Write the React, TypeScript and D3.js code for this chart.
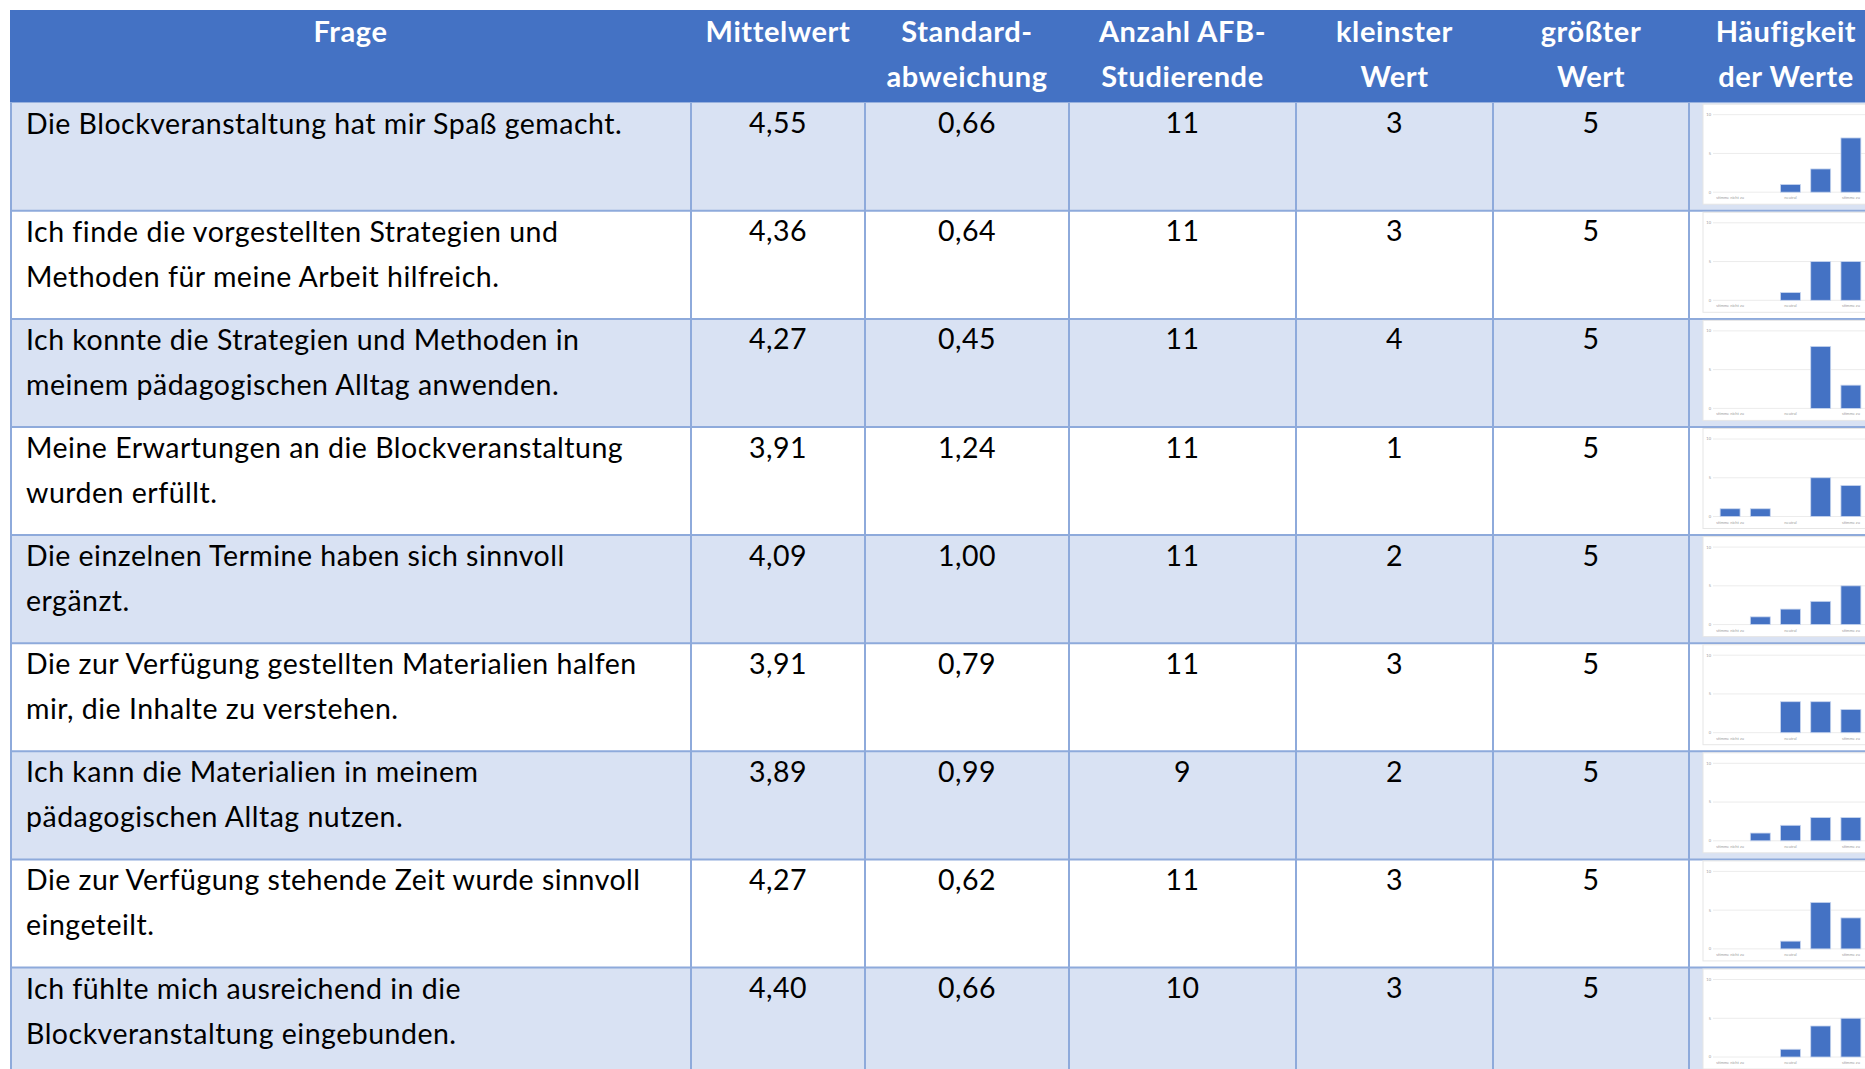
import React, { useEffect, useRef } from 'react';
import * as d3 from 'd3';

const width = 1865;
const height = 1069;

const headers = ['Frage', 'Mittelwert', 'Standard-\nabweichung', 'Anzahl AFB-\nStudierende', 'kleinster\nWert', 'größter\nWert', 'Häufigkeit\nder Werte'];

const questions = [
  'Die Blockveranstaltung hat mir Spaß gemacht.',
  'Ich finde die vorgestellten Strategien und\nMethoden für meine Arbeit hilfreich.',
  'Ich konnte die Strategien und Methoden in\nmeinem pädagogischen Alltag anwenden.',
  'Meine Erwartungen an die Blockveranstaltung\nwurden erfüllt.',
  'Die einzelnen Termine haben sich sinnvoll\nergänzt.',
  'Die zur Verfügung gestellten Materialien halfen\nmir, die Inhalte zu verstehen.',
  'Ich kann die Materialien in meinem\npädagogischen Alltag nutzen.',
  'Die zur Verfügung stehende Zeit wurde sinnvoll\neingeteilt.',
  'Ich fühlte mich ausreichend in die\nBlockveranstaltung eingebunden.',
];
const means = [4.55, 4.36, 4.27, 3.91, 4.09, 3.91, 3.89, 4.27, 4.40];
const stdDevs = [0.66, 0.64, 0.45, 1.24, 1.00, 0.79, 0.99, 0.62, 0.66];
const counts = [11, 11, 11, 11, 11, 11, 9, 11, 10];
const minValues = [3, 3, 4, 1, 2, 3, 2, 3, 3];
const maxValues = [5, 5, 5, 5, 5, 5, 5, 5, 5];

// frequency of answers 1..5 per question
const answerValues = [1, 2, 3, 4, 5];
const answerLabels = ['stimme nicht zu', '', 'neutral', '', 'stimme zu'];
const frequencies = [
  [0, 0, 1, 3, 7],
  [0, 0, 1, 5, 5],
  [0, 0, 0, 8, 3],
  [1, 1, 0, 5, 4],
  [0, 1, 2, 3, 5],
  [0, 0, 4, 4, 3],
  [0, 1, 2, 3, 3],
  [0, 0, 1, 6, 4],
  [0, 0, 1, 4, 5],
];
const freqTicks = [0, 5, 10];

const colEdges = [10, 691, 865, 1069, 1296, 1493, 1689, 1883];
const tableTop = 10;
const headerBottom = 102.7;
const rowHeight = 108.1;
const lineGap = 45;

const font = 'Lato, "Noto Sans", sans-serif';
const de = d3.formatLocale({ decimal: ',', thousands: '.', grouping: [3], currency: ['', '€'] });
const fmt2 = de.format('.2f');

const App = () => {
  const ref = useRef<SVGSVGElement>(null);

  useEffect(() => {
    const svg = d3.select(ref.current);
    svg.selectAll('*').remove();

    const rowY = (i: number) => headerBottom + i * rowHeight;

    // header
    svg.append('rect')
      .attr('x', colEdges[0]).attr('y', tableTop)
      .attr('width', colEdges[7] - colEdges[0]).attr('height', headerBottom - tableTop)
      .attr('fill', '#4472C4');

    headers.forEach((h, c) => {
      const cx = (colEdges[c] + colEdges[c + 1]) / 2;
      h.split('\n').forEach((line, k) => {
        svg.append('text')
          .attr('x', cx).attr('y', tableTop + 31.7 + k * lineGap)
          .attr('text-anchor', 'middle')
          .attr('fill', '#fff')
          .style('font-family', font).style('font-weight', 700).style('font-size', '29px')
          .style('letter-spacing', '0.6px')
          .text(line);
      });
    });

    // row backgrounds
    questions.forEach((q, i) => {
      svg.append('rect')
        .attr('x', colEdges[0]).attr('y', rowY(i))
        .attr('width', colEdges[7] - colEdges[0]).attr('height', rowHeight)
        .attr('fill', i % 2 === 0 ? '#D9E2F3' : '#FFFFFF');
    });

    // grid lines
    const lines = svg.append('g').attr('stroke', '#8EAADB').attr('stroke-width', 2);
    questions.forEach((q, i) => {
      if (i === 0) return;
      lines.append('line')
        .attr('x1', colEdges[0]).attr('x2', colEdges[7])
        .attr('y1', rowY(i)).attr('y2', rowY(i));
    });
    colEdges.forEach((x, c) => {
      lines.append('line')
        .attr('x1', c === 0 ? x + 1 : x).attr('x2', c === 0 ? x + 1 : x)
        .attr('y1', headerBottom).attr('y2', height);
    });

    // cell text
    const cellValues = [means.map(fmt2), stdDevs.map(fmt2), counts.map(String), minValues.map(String), maxValues.map(String)];
    questions.forEach((q, i) => {
      q.split('\n').forEach((line, k) => {
        svg.append('text')
          .attr('x', 26).attr('y', rowY(i) + 31 + k * lineGap)
          .attr('fill', '#000')
          .style('font-family', font).style('font-size', '28.5px')
          .style('letter-spacing', '0.5px')
          .text(line);
      });
      cellValues.forEach((vals, c) => {
        svg.append('text')
          .attr('x', (colEdges[c + 1] + colEdges[c + 2]) / 2)
          .attr('y', rowY(i) + 30.5)
          .attr('text-anchor', 'middle')
          .attr('fill', '#000')
          .style('font-family', font).style('font-size', '28.5px')
          .style('letter-spacing', '0.5px')
          .text(vals[i]);
      });
    });

    // mini frequency charts
    const x = d3.scaleBand<number>()
      .domain(answerValues)
      .range([1715, 1866])
      .paddingInner(0.34)
      .paddingOuter(0.17);

    frequencies.forEach((freq, i) => {
      const top = rowY(i);
      const y = d3.scaleLinear().domain([0, 10]).range([top + 89.5, top + 12]);
      const g = svg.append('g');

      g.append('rect')
        .attr('x', 1703).attr('y', top + 1.5)
        .attr('width', 200).attr('height', 100)
        .attr('fill', '#fff').attr('stroke', '#e6e6e6').attr('stroke-width', 1);

      freqTicks.forEach(t => {
        g.append('line')
          .attr('x1', 1713).attr('x2', 1903)
          .attr('y1', y(t)).attr('y2', y(t))
          .attr('stroke', '#ececec').attr('stroke-width', 1);
        g.append('text')
          .attr('x', 1711).attr('y', y(t)).attr('dy', '0.35em')
          .attr('text-anchor', 'end')
          .attr('fill', '#9a9a9a')
          .style('font-family', font).style('font-size', '4px')
          .text(t);
      });

      g.selectAll('rect.bar')
        .data(answerValues)
        .enter()
        .append('rect')
        .attr('class', 'bar')
        .attr('x', d => x(d)!)
        .attr('width', x.bandwidth())
        .attr('y', (d, k) => y(freq[k]))
        .attr('height', (d, k) => y(0) - y(freq[k]))
        .attr('fill', '#4472C4')
        .attr('stroke', '#c9d6ef').attr('stroke-width', 0.8);

      g.selectAll('text.cat')
        .data(answerValues)
        .enter()
        .append('text')
        .attr('class', 'cat')
        .attr('x', d => x(d)! + x.bandwidth() / 2)
        .attr('y', top + 96.5)
        .attr('text-anchor', 'middle')
        .attr('fill', '#a0a0a0')
        .style('font-family', font).style('font-size', '4px')
        .text((d, k) => answerLabels[k]);
    });
  }, []);

  return (
    <svg ref={ref} width={width} height={height}
      style={{ position: 'absolute', left: 0, top: 0, display: 'block', background: '#fff' }} />
  );
};

export default App;
